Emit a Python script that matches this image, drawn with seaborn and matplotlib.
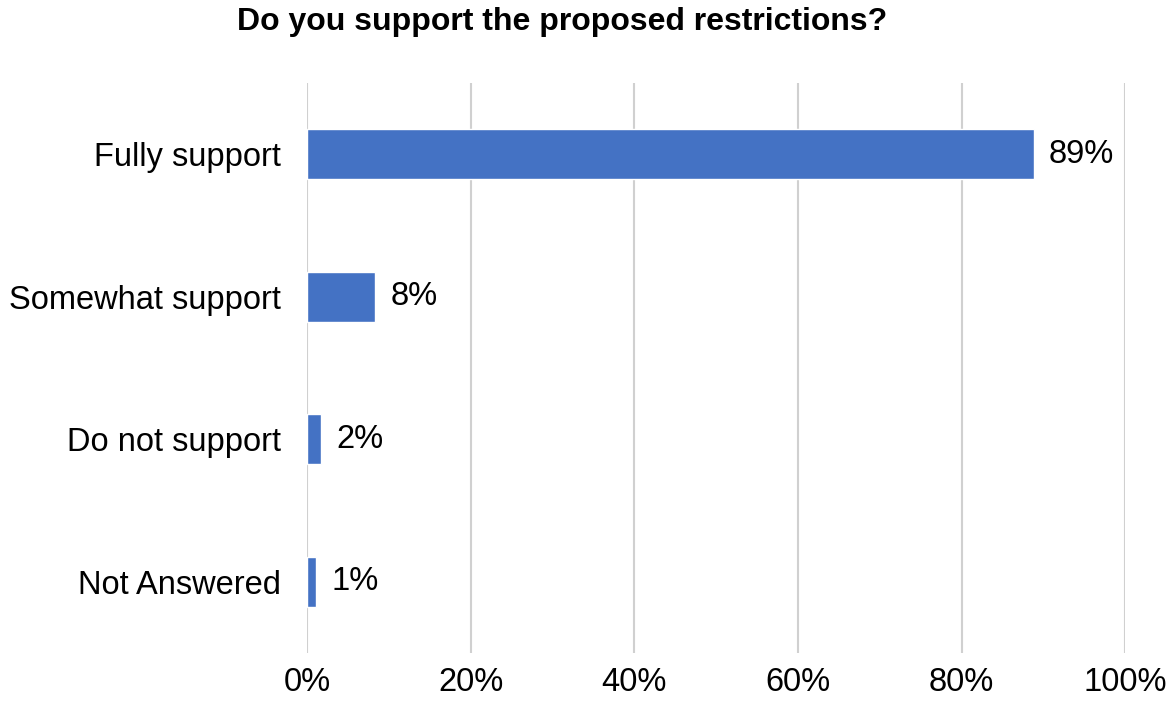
import matplotlib
matplotlib.use("Agg")
import matplotlib.pyplot as plt
import seaborn as sns
import pandas as pd
from matplotlib.ticker import PercentFormatter

categories = ["Fully support", "Somewhat support", "Do not support", "Not Answered"]
share = [88.8, 8.3, 1.7, 1.1]
labels = ["89%", "8%", "2%", "1%"]
xticks = [0, 20, 40, 60, 80, 100]

df = pd.DataFrame({"answer": categories, "share": share})

sns.set_theme(style="white")
plt.rcParams["font.family"] = ["Liberation Sans", "DejaVu Sans"]

fig = plt.figure(figsize=(11.69, 7.06), dpi=100)
ax = fig.add_axes([0.2626, 0.0751, 0.70, 0.8073])

sns.barplot(data=df, x="share", y="answer", orient="h", color="#4472C4",
            saturation=1, width=0.35, ax=ax)

ax.set_xlim(0, 100)
ax.set_ylim(3.5, -0.5)
ax.set_xticks(xticks)
ax.xaxis.set_major_formatter(PercentFormatter(decimals=0))
ax.grid(axis="x", color="#d0d0d0", linewidth=1.5)
ax.set_axisbelow(True)
sns.despine(ax=ax, left=True, bottom=True)
ax.set_xlabel("")
ax.set_ylabel("")
ax.tick_params(axis="y", labelsize=23.5, pad=19, length=0, colors="black")
ax.tick_params(axis="x", labelsize=23.5, pad=10, length=0, colors="black")

ax.bar_label(ax.containers[0], labels=labels, padding=11, fontsize=23.5,
             color="black")

fig.suptitle("Do you support the proposed restrictions?", x=0.481, y=0.99,
             fontsize=23, fontweight="bold", color="black")

fig.savefig("out.png", dpi=100)
